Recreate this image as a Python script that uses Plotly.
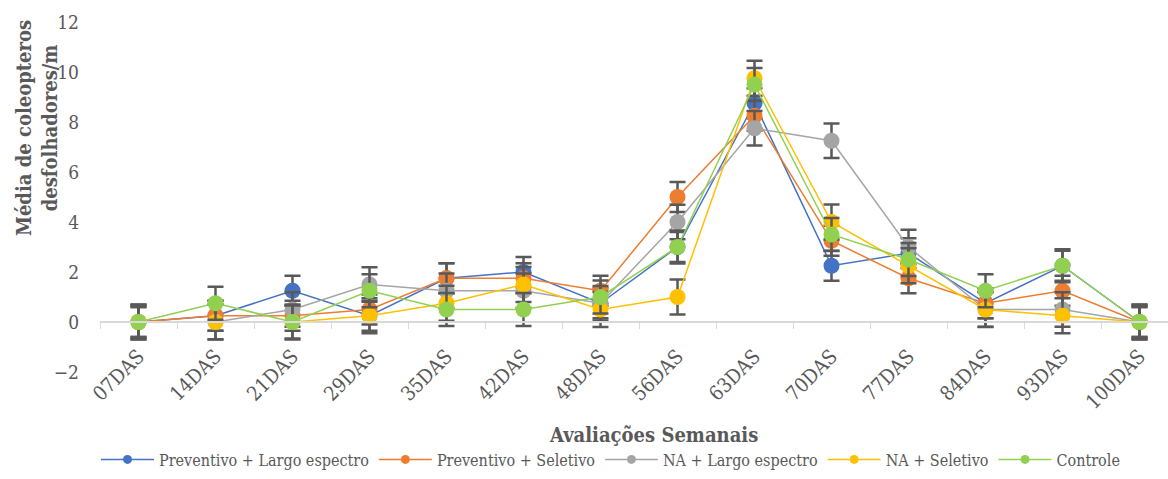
import plotly.graph_objects as go

# Avaliações semanais (dias após a semeadura)
avaliacoes = ["07DAS", "14DAS", "21DAS", "29DAS", "35DAS", "42DAS", "48DAS",
              "56DAS", "63DAS", "70DAS", "77DAS", "84DAS", "93DAS", "100DAS"]

# Média de coleópteros desfolhadores por metro, por tratamento
preventivo_largo = [0, 0.25, 1.25, 0.25, 1.75, 2.0, 0.75, 3.0, 8.75, 2.25, 2.75, 0.75, 2.25, 0]
preventivo_seletivo = [0, 0.25, 0.25, 0.5, 1.75, 1.75, 1.25, 5.0, 8.25, 3.25, 1.75, 0.75, 1.25, 0]
na_largo = [0, 0, 0.5, 1.5, 1.25, 1.25, 0.75, 4.0, 7.75, 7.25, 3.0, 0.5, 0.5, 0]
na_seletivo = [0, 0, 0, 0.25, 0.75, 1.5, 0.5, 1.0, 9.75, 4.0, 2.25, 0.5, 0.25, 0]
controle = [0, 0.75, 0, 1.25, 0.5, 0.5, 1.0, 3.0, 9.5, 3.5, 2.5, 1.25, 2.25, 0]

# Erro padrão de cada série
erro_padrao = [0.6, 0.6, 0.69, 0.7, 0.66]

nomes = ["Preventivo + Largo espectro", "Preventivo + Seletivo",
         "NA + Largo espectro", "NA + Seletivo", "Controle"]
cores = ["#4472C4", "#ED7D31", "#A5A5A5", "#FFC000", "#92D050"]
series = [preventivo_largo, preventivo_seletivo, na_largo, na_seletivo, controle]

FONTE = "DejaVu Serif Condensed, DejaVu Serif"
CINZA = "#595959"

fig = go.Figure()

for nome, cor, valores, erro in zip(nomes, cores, series, erro_padrao):
    fig.add_trace(go.Scatter(
        x=avaliacoes, y=valores, name=nome, mode="lines+markers",
        line=dict(color=cor, width=1.5),
        marker=dict(color=cor, size=16),
        error_y=dict(type="constant", value=erro, color=CINZA,
                     thickness=2.5, width=8),
        showlegend=False, legendgroup=nome,
    ))

# Entradas da legenda com marcadores menores
for nome, cor in zip(nomes, cores):
    fig.add_trace(go.Scatter(
        x=[None], y=[None], name=nome, mode="lines+markers",
        line=dict(color=cor, width=1.5),
        marker=dict(color=cor, size=9),
        legendgroup=nome, showlegend=True,
    ))

fig.update_layout(
    width=1168, height=479,
    margin=dict(l=100, r=0, t=22, b=107),
    plot_bgcolor="white", paper_bgcolor="white",
    font=dict(family=FONTE, color=CINZA, size=16),
    xaxis=dict(
        type="category", range=[-0.5, 13.37], automargin=False,
        showgrid=False, zeroline=False,
        showline=True, linecolor="#D9D9D9", linewidth=1.5,
        ticks="outside", tickson="boundaries", ticklen=6, tickcolor="#D9D9D9",
        tickangle=-45, ticklabelstandoff=14,
        tickfont=dict(size=20, color=CINZA, family=FONTE),
        anchor="free", position=2 / 14,
    ),
    yaxis=dict(
        range=[-2, 12], dtick=2, showgrid=False, zeroline=False, automargin=False,
        showline=False, ticks="", ticklabelstandoff=20,
        tickfont=dict(size=19, color=CINZA, family=FONTE),
    ),
    legend=dict(
        orientation="h", x=0.478, xanchor="center", y=-0.25, yanchor="middle",
        itemwidth=53,
        font=dict(size=16, color=CINZA, family=FONTE), bgcolor="rgba(0,0,0,0)",
    ),
    annotations=[
        dict(text="<b>Média de coleopteros<br>desfolhadores/m</b>",
             xref="paper", yref="paper", x=-0.059, y=0.697,
             xanchor="center", yanchor="middle", textangle=-90,
             showarrow=False, font=dict(size=20, color=CINZA, family=FONTE)),
        dict(text="<b>Avaliações Semanais</b>",
             xref="paper", yref="paper", x=0.518, y=-0.18,
             xanchor="center", yanchor="middle",
             showarrow=False, font=dict(size=20, color=CINZA, family=FONTE)),
    ],
)

fig.write_html("out.html")
